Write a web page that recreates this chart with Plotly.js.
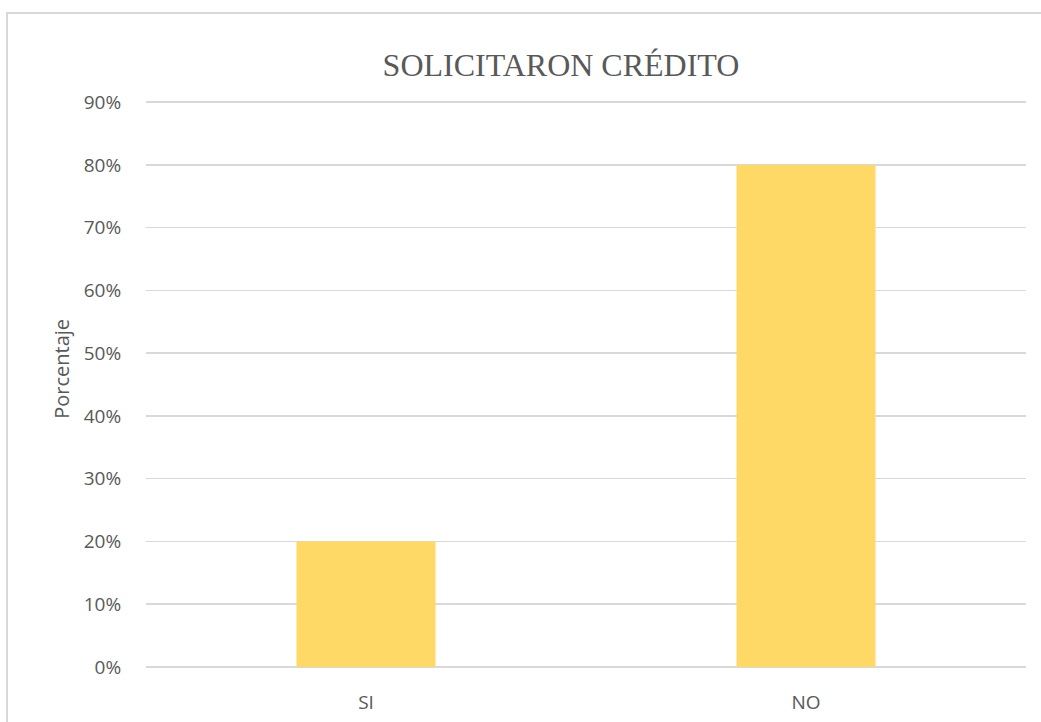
<!DOCTYPE html>
<html>
<head>
<meta charset="utf-8">
<script src="https://cdn.plot.ly/plotly-3.0.1.min.js"></script>
<style>
  html, body { margin: 0; padding: 0; background: #ffffff; }
  #wrap { position: relative; width: 1041px; height: 722px; overflow: hidden; }
  #chart { position: absolute; left: 0; top: 0; width: 1041px; height: 722px; }
  #frame { position: absolute; left: 6px; top: 12px; width: 1200px; height: 900px;
           border-top: 2px solid #D9D9D9; border-left: 2px solid #D9D9D9; pointer-events: none; }
</style>
</head>
<body>
<div id="wrap">
  <div id="chart"></div>
  <div id="frame"></div>
</div>
<script>
const categories = ["SI", "NO"];
const percentages = [0.20, 0.80];
const chartTitle = "SOLICITARON CRÉDITO";
const yAxisTitle = "Porcentaje";

const trace = {
  type: "bar",
  x: categories,
  y: percentages,
  marker: { color: "#FFD966" },
  hoverinfo: "x+y"
};

const layout = {
  width: 1041,
  height: 722,
  paper_bgcolor: "rgba(0,0,0,0)",
  plot_bgcolor: "#ffffff",
  margin: { l: 146, r: 15, t: 99, b: 55 },
  bargap: 0.684,
  showlegend: false,
  title: {
    text: chartTitle,
    font: { family: "Liberation Serif, Times New Roman, serif", size: 32, color: "#595959" },
    x: 0.4716, xref: "paper", xanchor: "center",
    y: 0.91, yref: "container", yanchor: "middle"
  },
  xaxis: {
    type: "category",
    showgrid: false,
    zeroline: false,
    showline: false,
    ticks: "outside", ticklen: 18, tickcolor: "rgba(0,0,0,0)",
    tickfont: { family: "Open Sans, sans-serif", size: 19, color: "#595959" }
  },
  yaxis: {
    range: [0, 0.905],
    dtick: 0.1,
    tick0: 0,
    tickformat: ".0%",
    showgrid: true,
    gridcolor: "#D9D9D9",
    gridwidth: 1.5,
    zeroline: true,
    zerolinecolor: "#D9D9D9",
    zerolinewidth: 1.5,
    showline: false,
    ticks: "outside", ticklen: 20, tickcolor: "rgba(0,0,0,0)",
    tickfont: { family: "Open Sans, sans-serif", size: 19, color: "#595959" }
  },
  annotations: [{
    text: yAxisTitle,
    textangle: -90,
    xref: "paper", yref: "paper",
    x: -0.0955, y: 0.525,
    xanchor: "center", yanchor: "middle",
    showarrow: false,
    font: { family: "Open Sans, sans-serif", size: 20, color: "#595959" }
  }]
};

Plotly.newPlot("chart", [trace], layout, { displayModeBar: false, staticPlot: true });
</script>
</body>
</html>
